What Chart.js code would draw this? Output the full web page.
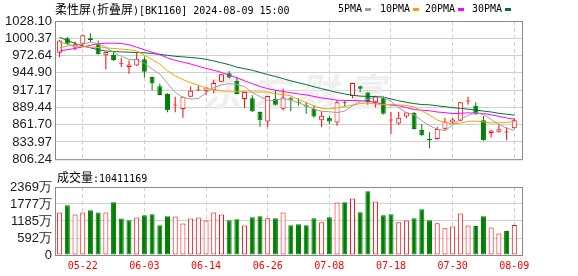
<!DOCTYPE html>
<html>
<head>
<meta charset="utf-8">
<script src="https://cdn.jsdelivr.net/npm/chart.js@4.4.1/dist/chart.umd.min.js"></script>
<style>
body { margin: 0; background: #fff; width: 578px; height: 276px; overflow: hidden; position: relative; }
canvas { position: absolute; left: 0; }
#kline { top: 0; }
#volume { top: 170px; }
.t { position: absolute; white-space: nowrap; font-family: 'DejaVu Sans Mono', monospace; font-size: 10px; line-height: 12px; color: #000; }
.t b { font-weight: normal; font-family: 'Noto Sans CJK SC', sans-serif; font-size: 12px; }
.sw { position: absolute; width: 6px; height: 3px; top: 8px; }
</style>
</head>
<body>
<canvas id="kline" width="578" height="170"></canvas>
<canvas id="volume" width="578" height="106"></canvas>
<div class="t" style="left:55px;top:3px"><b>柔性屏</b>(<b>折叠屏</b>)[BK1160] 2024-08-09 15:00</div>
<div class="t" style="left:57px;top:171px"><b>成交量</b>:10411169</div>
<div id="legend"></div>
<script>
// trading days shown (2024)
const dates = ['05-17','05-20','05-21','05-22','05-23','05-24','05-27','05-28','05-29','05-30',
  '05-31','06-03','06-04','06-05','06-06','06-07','06-11','06-12','06-13','06-14',
  '06-17','06-18','06-19','06-20','06-21','06-24','06-25','06-26','06-27','06-28',
  '07-01','07-02','07-03','07-04','07-05','07-08','07-09','07-10','07-11','07-12',
  '07-15','07-16','07-17','07-18','07-19','07-22','07-23','07-24','07-25','07-26',
  '07-29','07-30','07-31','08-01','08-02','08-05','08-06','08-07','08-08','08-09'];
const tickIdx = [3, 11, 19, 27, 35, 43, 51, 59];

const open = [977.1,1000.4,985.4,991.4,1000.4,990.6,973.0,973.5,958.6,954.4,
  956.5,966.8,938.4,923.5,910.8,892.5,886.8,906.5,916.5,916.3,
  916.8,930.7,944.1,932.3,902.8,903.9,882.2,866.7,902.8,887.3,
  903.9,898.5,893.0,887.3,868.8,872.9,865.1,897.7,907.5,923.5,
  913.2,897.7,903.9,868.5,863.6,874.9,880.6,853.3,838.8,838.8,
  855.3,865.1,867.8,899.0,892.0,868.8,848.1,849.7,849.0,855.8];
const high = [997.5,1002.9,995.7,1005.9,1008.5,996.8,978.5,979.7,968.9,964.8,
  977.1,971.0,938.8,927.8,912.0,906.5,906.8,923.0,924.5,922.0,
  933.8,943.0,947.7,938.5,914.5,909.0,883.0,908.0,916.8,919.4,
  906.5,903.9,897.7,892.5,883.2,875.5,901.3,901.3,929.0,924.5,
  914.2,908.0,907.0,882.2,882.2,881.7,882.2,862.6,849.7,858.4,
  872.9,872.9,898.0,906.5,897.7,875.5,853.3,861.5,857.4,871.9];
const low = [969.9,989.5,981.3,988.0,994.2,974.0,950.3,963.7,954.4,943.6,
  956.0,937.4,917.0,909.0,881.6,881.7,872.9,906.0,916.0,909.0,
  912.6,930.0,935.9,910.0,888.4,882.0,858.5,857.4,892.5,884.3,
  883.2,892.5,879.1,872.9,857.4,862.6,860.0,891.0,903.9,914.2,
  893.6,889.4,878.0,847.1,861.5,871.8,854.0,843.0,823.9,838.0,
  852.3,862.6,867.0,893.6,878.0,836.0,840.9,849.0,836.8,855.0];
const close = [996.8,991.6,990.6,1005.4,997.6,974.6,978.2,965.3,959.6,958.1,
  967.4,946.7,928.3,909.5,885.0,893.5,906.5,916.3,917.5,921.4,
  928.6,942.6,937.4,911.0,914.2,883.2,868.8,907.5,893.6,905.4,
  901.8,897.0,891.0,874.9,876.0,866.7,897.7,896.1,928.6,919.4,
  897.7,907.5,879.1,869.3,872.9,881.1,854.8,844.5,836.8,854.8,
  866.7,869.8,897.7,900.0,878.1,836.8,852.2,854.3,850.0,868.8];

const ma5 = [985,988,989,991,994,991.5,986,977.5,971.5,966.5,
  966,960,951,943,928,913.5,905.5,903,903.5,913,
  921.5,925.5,927.5,926,923,913,907,900,901,903.5,
  901,897,892,887,883,882.5,881,883.5,892,898.5,
  903,905.5,906.5,899,889,881,877.5,868,860,854.5,
  852,861,870,876.5,880.5,878,870,862.5,856,852.5];
const ma10 = [994,991,988,987,986,985.5,985,984,983,982,
  980,973,966,959,948,940,934,929,925,921,
  917.5,916,915.5,915,914.5,914,914,914,911,910,
  908,902,897,891.5,888,887,888.5,891,893,895.5,
  896.5,895,894,894,893.5,892.5,890,884,877,869,
  865,863,864,867,867.5,866,864.5,864.5,865.5,866.5];
const ma20 = [980,982,984,986.5,989,992,992.5,992.5,992,990,
  986,982,978,974,969,965,962,959,955.5,952,
  949,945.5,941,937,932,927.5,923,919.5,917,915,
  913,911,909.5,907,904.5,903,901,900.5,900.5,900,
  899.5,897,895,893,892,889,886,885,884,882,
  881,879.5,880,880.5,880.5,879.5,877.5,875,872.5,870.5];
const ma30 = [1002,997,992,988,985,982,980,979,978.5,978,
  977.5,977,976,974.5,973,971.5,970.5,969.5,968.5,966.5,
  964,961,958,954,951.5,949,945.5,942,939,935.5,
  932,929,926,922.5,919.5,916.5,913.5,911,909,907.5,
  907,906.5,906,903,900,897.5,895.5,894,893.5,892,
  890.5,889,888,886.5,885,883.5,882,880,878.5,877];
const maNames = ['5PMA', '10PMA', '20PMA', '30PMA'];

// volume in 万
const vol = [1480,1734,1410,1480,1561,1480,1480,1838,1272,1214,
  1306,1387,1422,1040,1353,1341,1098,1272,1306,1202,
  1480,1410,1214,1248,1029,1318,1353,1283,1283,1480,
  1040,1075,1040,1283,1144,1318,1826,1838,1965,1491,
  2220,1861,1387,1422,1144,1202,1283,1595,1214,1110,
  936,994,1445,1029,1006,1353,960,751,832,1041.1169];
const volUp = [1,0,1,1,0,0,1,0,0,0, 1,0,0,0,0,1,1,1,1,1,
  1,1,0,0,1,0,0,1,0,1, 0,0,0,0,1,0,1,0,1,0,
  0,1,0,0,1,1,0,0,0,1, 1,1,1,1,0,0,1,1,0,1];

const priceTicks = [806.24, 833.97, 861.70, 889.44, 917.17, 944.90, 972.64, 1000.37, 1028.10];
const volTicks = [0, 592, 1185, 1777, 2369];

const UP = '#ff0000', DOWN = '#008000';
const maColors = ['#a0a0a0', '#f5a300', '#ff00ff', '#00703a'];
const isUp = i => close[i] > open[i];

// legend
const legendX = [338, 380, 425, 472];
const lg = document.getElementById('legend');
maNames.forEach((n, k) => {
  const t = document.createElement('div');
  t.className = 't';
  t.style.left = legendX[k] + 'px';
  t.style.top = '3px';
  t.textContent = n;
  lg.appendChild(t);
  const s = document.createElement('div');
  s.className = 'sw';
  s.style.left = (legendX[k] + n.length * 6 + 3) + 'px';
  s.style.background = maColors[k];
  lg.appendChild(s);
});

function xAxis(show) {
  return {
    type: 'linear', min: -0.6, max: 60.0, offset: false,
    afterBuildTicks: s => { s.ticks = tickIdx.map(v => ({ value: v })); },
    afterFit: s => { s.height = show ? 21 : 0; },
    grid: { color: '#d0d0d0', offset: false, drawTicks: false },
    border: { display: false, dash: [4, 3] },
    ticks: {
      display: show, color: '#ff0000', padding: 5, maxRotation: 0, autoSkip: false,
      font: { family: 'DejaVu Sans Mono', size: 10 },
      callback: v => dates[v]
    }
  };
}

function yAxis(lo, hi, ticks, fmt) {
  return {
    min: lo, max: hi,
    afterBuildTicks: s => { s.ticks = ticks.map(v => ({ value: v })); },
    afterFit: s => { s.width = 55; },
    grid: { color: '#d0d0d0', drawTicks: false },
    border: { display: false },
    ticks: {
      padding: 3, autoSkip: false, color: '#1a1a1a',
      font: { family: 'Liberation Sans', size: 13 }, callback: fmt
    }
  };
}

const frame = {
  id: 'frame',
  afterDraw(chart) {
    const { ctx, chartArea: a } = chart;
    ctx.save();
    ctx.strokeStyle = '#8a8a8a';
    ctx.lineWidth = 1;
    ctx.strokeRect(a.left + 0.5, a.top + 0.5, a.right - a.left, a.bottom - a.top);
    ctx.restore();
  }
};

const watermark = {
  id: 'watermark',
  beforeDatasetsDraw(chart) {
    const c = chart.ctx;
    c.save();
    c.fillStyle = '#efefef';
    c.font = 'italic bold 38px "Noto Sans CJK SC"';
    c.textAlign = 'center';
    c.textBaseline = 'middle';
    ['东', '方', '财', '富'].forEach((ch, k) => c.fillText(ch, 222 + k * 48, 92));
    c.restore();
  }
};

new Chart(document.getElementById('kline').getContext('2d'), {
  type: 'bar',
  data: {
    datasets: [
      ...[ma5, ma10, ma20, ma30].map((d, k) => ({
        type: 'line', label: maNames[k],
        data: d.map((v, i) => ({ x: i, y: v })),
        borderColor: maColors[k], borderWidth: 1, pointRadius: 0, tension: 0, order: 0
      })),
      {
        label: 'body',
        data: open.map((o, i) => ({ x: i, y: [Math.min(o, close[i]), Math.max(o, close[i])] })),
        barThickness: 5, grouped: false, minBarLength: 1, inflateAmount: 0,
        backgroundColor: c => isUp(c.dataIndex) ? '#ffffff' : DOWN,
        borderColor: c => isUp(c.dataIndex) ? UP : DOWN,
        borderWidth: 1, borderSkipped: false, order: 1
      },
      {
        label: 'wick',
        data: low.map((l, i) => ({ x: i, y: [l, high[i]] })),
        barThickness: 1, grouped: false, inflateAmount: 0,
        backgroundColor: c => isUp(c.dataIndex) ? UP : DOWN,
        borderWidth: 0, order: 2
      }
    ]
  },
  options: {
    responsive: false, animation: false, devicePixelRatio: 1,
    layout: { padding: { left: 0, right: 56, top: 21, bottom: 5 } },
    plugins: { legend: { display: false }, tooltip: { enabled: false } },
    scales: {
      x: xAxis(false),
      y: yAxis(806.24, 1028.10, priceTicks, v => v.toFixed(2))
    }
  },
  plugins: [watermark, frame]
});

new Chart(document.getElementById('volume').getContext('2d'), {
  type: 'bar',
  data: {
    datasets: [{
      label: 'volume',
      data: vol.map((v, i) => ({ x: i, y: v })),
      barThickness: 5, inflateAmount: 0,
      backgroundColor: c => volUp[c.dataIndex] ? '#ffffff' : DOWN,
      borderColor: c => volUp[c.dataIndex] ? UP : DOWN,
      borderWidth: 1, borderSkipped: false
    }]
  },
  options: {
    responsive: false, animation: false, devicePixelRatio: 1,
    layout: { padding: { left: 0, right: 56, top: 17, bottom: 0 } },
    plugins: { legend: { display: false }, tooltip: { enabled: false } },
    scales: {
      x: xAxis(true),
      y: yAxis(0, 2369, volTicks, v => v === 0 ? '0' : v + '万')
    }
  },
  plugins: [frame]
});
</script>
</body>
</html>
